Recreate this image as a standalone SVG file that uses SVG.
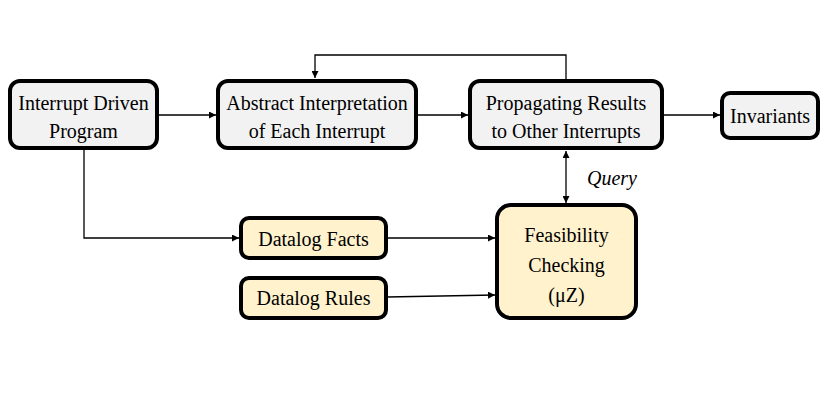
<svg xmlns="http://www.w3.org/2000/svg" width="830" height="415" viewBox="0 0 830 415">
<style>
.g{fill:#f2f2f2;stroke:#000;stroke-width:4}
.y{fill:#fff2cc;stroke:#000;stroke-width:4}
text{font-family:'Liberation Serif','Times New Roman',serif;font-size:20px;fill:#000;text-anchor:middle}
.c{fill:none;stroke:#000;stroke-width:1.3}
</style>
<defs>
<marker id="a" viewBox="0 0 10 10" refX="10" refY="5" markerWidth="7" markerHeight="7" markerUnits="userSpaceOnUse" orient="auto-start-reverse"><path d="M0,0 L10,5 L0,10 z" fill="#000"/></marker>
</defs>
<rect width="830" height="415" fill="#fff"/>
<g id="connectors">
<path class="c" d="M157,115 H216" marker-end="url(#a)"/>
<path class="c" d="M418,115 H468" marker-end="url(#a)"/>
<path class="c" d="M662,115 H720" marker-end="url(#a)"/>
<path class="c" d="M566,81 V55 H315 V78" marker-end="url(#a)"/>
<path class="c" d="M566,151 V203" marker-start="url(#a)" marker-end="url(#a)"/>
<path class="c" d="M84,150 V238 H239" marker-end="url(#a)"/>
<path class="c" d="M387,238 H495" marker-end="url(#a)"/>
<path class="c" d="M387,297 L495,295" marker-end="url(#a)"/>
<text x="612" y="185" style="font-style:italic">Query</text>
</g>
<g id="n1"><rect class="g" x="10" y="81" width="147" height="67" rx="10"/><text x="83.5" y="110">Interrupt Driven</text><text x="83.5" y="138">Program</text></g>
<g id="n2"><rect class="g" x="218" y="81" width="198" height="67" rx="10"/><text x="317" y="110">Abstract Interpretation</text><text x="317" y="138">of Each Interrupt</text></g>
<g id="n3"><rect class="g" x="470" y="81" width="192" height="67" rx="10"/><text x="566" y="110">Propagating Results</text><text x="566" y="138">to Other Interrupts</text></g>
<g id="n4"><rect class="g" x="722" y="93" width="96" height="45" rx="8"/><text x="770" y="123">Invariants</text></g>
<g id="n5"><rect class="y" x="241" y="218" width="145" height="40" rx="8"/><text x="313.5" y="246">Datalog Facts</text></g>
<g id="n6"><rect class="y" x="241" y="278" width="145" height="40" rx="8"/><text x="313.5" y="305">Datalog Rules</text></g>
<g id="n7"><rect class="y" x="497" y="205" width="139" height="113" rx="14"/><text x="566.5" y="242">Feasibility</text><text x="566.5" y="272">Checking</text><text x="566.5" y="302">(μZ)</text></g>
</svg>
